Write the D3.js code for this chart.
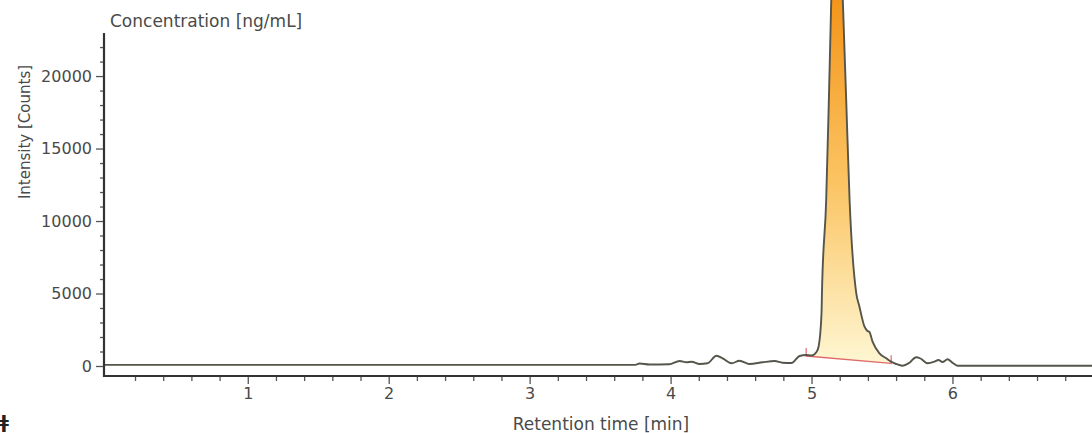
<!DOCTYPE html>
<html>
<head>
<meta charset="utf-8">
<script src="https://cdnjs.cloudflare.com/ajax/libs/d3/7.8.5/d3.min.js"></script>
<style>
  body { margin: 0; background: #fff; }
  svg { display: block; }
  .lbl { font-family: "DejaVu Sans", sans-serif; fill: #4a4a4a; }
  .axis text { font-family: "DejaVu Sans", sans-serif; font-size: 16px; fill: #4a4a4a; }
  .axis line { stroke: #555; stroke-width: 1.3; }
</style>
</head>
<body>
<div id="chart"></div>
<script>
// chromatogram trace
var timeMin = [-0.02, 3.75, 3.78, 3.85, 3.99, 4.064, 4.113, 4.149, 4.206, 4.262, 4.326, 4.369, 4.433, 4.489,
  4.56, 4.652, 4.738, 4.794, 4.858, 4.915, 4.962, 5.0, 5.035, 5.05, 5.071, 5.074, 5.104, 5.123, 5.14,
  5.16, 5.18, 5.2, 5.222, 5.246, 5.27, 5.317, 5.34, 5.376, 5.397, 5.411, 5.433, 5.482, 5.53, 5.565,
  5.6, 5.645, 5.695, 5.742, 5.773, 5.823, 5.872, 5.901, 5.929, 5.965, 6.0, 6.035, 7.0];
var intensity = [80, 80, 170, 100, 120, 345, 255, 297, 138, 186, 710, 531, 186, 366,
  138, 255, 345, 228, 207, 690, 760, 725, 966, 1330, 3660, 5040, 11450, 18350, 25250,
  32150, 37000, 32000, 25250, 18350, 11450, 5040, 4090, 2710, 2415, 2346, 1677, 876, 531, 297,
  138, 20, 228, 600, 517, 186, 297, 414, 276, 462, 228, 20, 20];

// integrated peak: start / end of the drawn baseline
var peakStart = [4.962, 690];
var peakEnd = [5.565, 186];

var xTicks = [1, 2, 3, 4, 5, 6];
var yTicks = [0, 5000, 10000, 15000, 20000];

var width = 1092, height = 433;

var svg = d3.select("#chart")
  .append("svg")
  .attr("width", width)
  .attr("height", height);

var x = d3.scaleLinear().domain([-0.02, 6.99]).range([104, 1092]);
var y = d3.scaleLinear().domain([-690, 22970]).range([376, 33]);

var data = timeMin.map(function(t, i) { return { t: t, v: intensity[i] }; });

// gradient for the peak fill
var grad = svg.append("defs").append("linearGradient")
  .attr("id", "peakfill")
  .attr("gradientUnits", "userSpaceOnUse")
  .attr("x1", 0).attr("y1", 0).attr("x2", 0).attr("y2", y(0));
grad.append("stop").attr("offset", "0%").attr("stop-color", "#f4951a");
grad.append("stop").attr("offset", "50%").attr("stop-color", "#fbc463");
grad.append("stop").attr("offset", "100%").attr("stop-color", "#fef7d4");

function baseAt(t) {
  var k = (t - peakStart[0]) / (peakEnd[0] - peakStart[0]);
  return peakStart[1] + k * (peakEnd[1] - peakStart[1]);
}

var peakData = data.filter(function(d) { return d.t >= peakStart[0] && d.t <= peakEnd[0]; });

var area = d3.area()
  .x(function(d) { return x(d.t); })
  .y0(function(d) { return y(baseAt(d.t)); })
  .y1(function(d) { return y(d.v); })
  .curve(d3.curveMonotoneX);

svg.append("path")
  .datum(peakData)
  .attr("d", area)
  .attr("fill", "url(#peakfill)");

// integration baseline
svg.append("line")
  .attr("x1", x(peakStart[0])).attr("y1", y(peakStart[1]))
  .attr("x2", x(peakEnd[0])).attr("y2", y(peakEnd[1]))
  .attr("stroke", "#e06a6a").attr("stroke-width", 1.3);

[peakStart, peakEnd].forEach(function(p) {
  svg.append("line")
    .attr("x1", x(p[0])).attr("x2", x(p[0]))
    .attr("y1", y(p[1]) - 8).attr("y2", y(p[1]) + 1)
    .attr("stroke", "#e06a6a").attr("stroke-width", 1.2);
});

// trace
var line = d3.line()
  .x(function(d) { return x(d.t); })
  .y(function(d) { return y(d.v); })
  .curve(d3.curveMonotoneX);

svg.append("path")
  .datum(data)
  .attr("d", line)
  .attr("fill", "none")
  .attr("stroke", "#55554c")
  .attr("stroke-width", 1.9);

// x axis
var xMinor = d3.range(0.2, 7, 0.2).filter(function(t) { return Math.abs(t - Math.round(t)) > 0.01; });

svg.append("g")
  .attr("class", "axis")
  .attr("transform", "translate(0,376)")
  .call(d3.axisBottom(x).tickValues(xMinor).tickSize(5).tickFormat(""))
  .call(function(g) { g.select(".domain").remove(); });

svg.append("g")
  .attr("class", "axis")
  .attr("transform", "translate(0,376)")
  .call(d3.axisBottom(x).tickValues(xTicks).tickSize(8).tickPadding(4).tickFormat(d3.format("d")))
  .call(function(g) { g.select(".domain").remove(); });

// y axis
var yMinor = d3.range(1000, 23000, 1000).filter(function(v) { return v % 5000 !== 0; });

svg.append("g")
  .attr("class", "axis")
  .attr("transform", "translate(104,0)")
  .call(d3.axisLeft(y).tickValues(yMinor).tickSize(4).tickFormat(""))
  .call(function(g) { g.select(".domain").remove(); });

svg.append("g")
  .attr("class", "axis")
  .attr("transform", "translate(104,0)")
  .call(d3.axisLeft(y).tickValues(yTicks).tickSize(8).tickPadding(4).tickFormat(d3.format("d")))
  .call(function(g) { g.select(".domain").remove(); });

// axis lines
svg.append("line")
  .attr("x1", 104).attr("x2", 104).attr("y1", 33).attr("y2", 377)
  .attr("stroke", "#333").attr("stroke-width", 2.2);
svg.append("line")
  .attr("x1", 103).attr("x2", 1092).attr("y1", 376).attr("y2", 376)
  .attr("stroke", "#333").attr("stroke-width", 2.2);

// titles
svg.append("text")
  .attr("class", "lbl")
  .attr("x", 110).attr("y", 27)
  .style("font-size", "17px")
  .text("Concentration [ng/mL]");

svg.append("text")
  .attr("class", "lbl")
  .attr("transform", "translate(30,132) rotate(-90)")
  .attr("text-anchor", "middle")
  .style("font-size", "15px")
  .text("Intensity [Counts]");

svg.append("text")
  .attr("class", "lbl")
  .attr("x", 601).attr("y", 430)
  .attr("text-anchor", "middle")
  .style("font-size", "17px")
  .text("Retention time [min]");

// cut-off glyph at the lower left edge
svg.append("text")
  .attr("x", -1).attr("y", 428)
  .style("font-family", "DejaVu Sans, sans-serif")
  .style("font-size", "18px")
  .style("font-weight", "bold")
  .attr("fill", "#222")
  .text("ǂ");
</script>
</body>
</html>
